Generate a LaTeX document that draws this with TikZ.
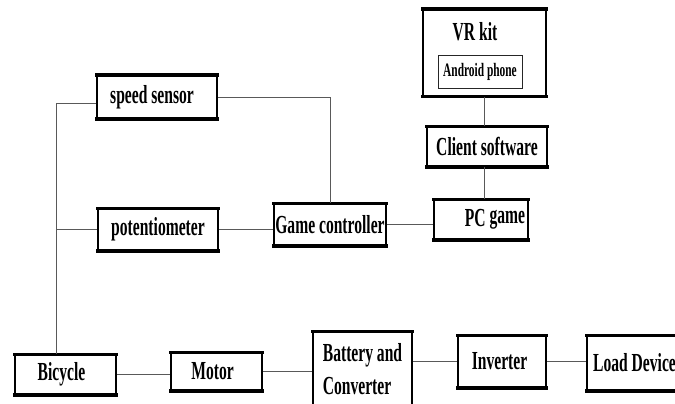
\documentclass[tikz,border=0pt]{standalone}
\usepackage{fontspec}
\setmainfont{Liberation Serif}[FakeStretch=0.6]
\begin{document}
\begin{tikzpicture}[x=1pt, y=-1pt,
  box/.style={draw=black, line width=1.6pt, inner sep=0pt, fill=white,
    font=\fontsize{26}{34}\selectfont\bfseries},
  smallbox/.style={draw=black!85, line width=0.8pt, inner sep=0pt,
    font=\fontsize{19}{20}\selectfont\bfseries},
  plain/.style={inner sep=0pt, font=\fontsize{26}{34}\selectfont\bfseries},
  wire/.style={draw=black!65, line width=0.9pt},
  bar/.style={line width=3.4pt, line cap=butt}]

% page frame
\useasboundingbox (0,0) rectangle (675,404);
\clip (0,0) rectangle (675,404);
\fill[white] (0,0) rectangle (675,404);

% blocks
\node[box, minimum width=120, minimum height=42] (speed) at (157,97) {speed sensor\hspace*{10pt}};
\node[box, minimum width=120, minimum height=41] (pot) at (158,229.5) {potentiometer};
\node[box, minimum width=112, minimum height=41] (gc) at (330,224.5) {Game controller};
\node[box, minimum width=94, minimum height=39] (pc) at (481,219.5) {\hspace*{28pt}PC \raisebox{3pt}{game}};
\node[box, minimum width=120, minimum height=39] (client) at (487,146.5) {Client software};
\node[box, minimum width=123, minimum height=86] (vr) at (484.5,53) {};
\node[plain] (vrtext) at (475,32) {VR kit};
\node[smallbox, minimum width=84, minimum height=33] (phone) at (480,71.5) {Android phone};

\node[box, minimum width=101, minimum height=39] (bike) at (65.5,374.5) {Bicycle\hspace*{8pt}};
\node[box, minimum width=91, minimum height=37] (motor) at (216.5,371.5) {Motor\hspace*{8pt}};
\node[box, minimum width=99, minimum height=78, align=left] (batt) at (362.5,371) {\raisebox{4pt}{\begin{tabular}{@{}l@{}}Battery and\\[-1pt]Converter\end{tabular}}};
\node[box, minimum width=88, minimum height=51] (inv) at (502,361.5) {Inverter\hspace*{5pt}};
\node[box, minimum width=95, minimum height=54] (load) at (634.5,363) {Load Device};

% heavier top and bottom edges
\foreach \n in {speed,pot,gc,pc,client,vr,bike,motor,batt,inv,load}{
  \draw[bar] ([xshift=-0.8pt]\n.north west) -- ([xshift=0.8pt]\n.north east);
  \draw[bar] ([xshift=-0.8pt]\n.south west) -- ([xshift=0.8pt]\n.south east);
}

% connections
\coordinate (spine) at (56,103);
\draw[wire] (spine -| speed.west) -- (spine) -- (spine |- bike.north);
\draw[wire] (spine |- pot.west) -- (pot.west);
\draw[wire] (speed.east) -| (gc.north);
\draw[wire] (pot.east) -- (pot.east -| gc.west);
\draw[wire] (gc.east) -- (gc.east -| pc.west);
\draw[wire] (vr.south -| 484,0) -- (client.north -| 484,0);
\draw[wire] (client.south -| 484,0) -- (pc.north -| 484,0);
\draw[wire] (bike.east) -- (bike.east -| motor.west);
\draw[wire] (motor.east) -- (motor.east -| batt.west);
\draw[wire] (inv.west -| batt.east) -- (inv.west);
\draw[wire] (inv.east) -- (inv.east -| load.west);
\end{tikzpicture}
\end{document}
